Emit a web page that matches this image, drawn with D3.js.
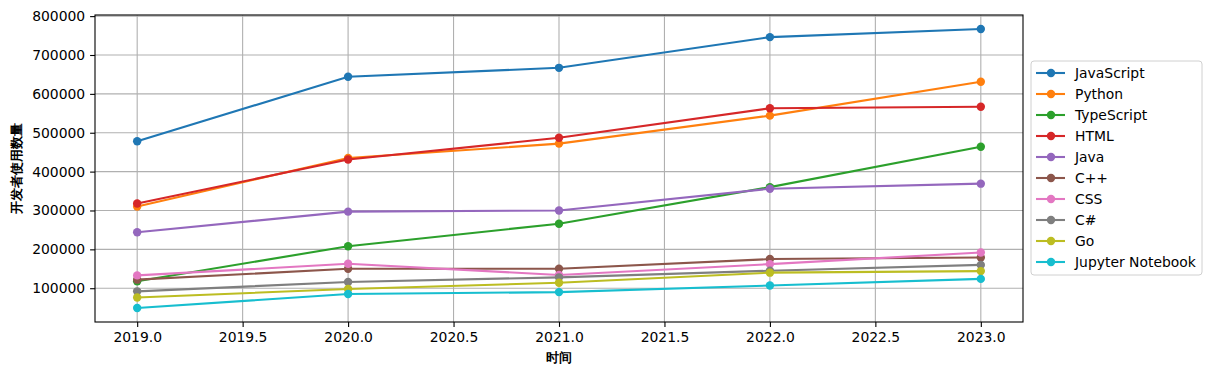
<!DOCTYPE html>
<html>
<head>
<meta charset="utf-8">
<script src="https://cdn.jsdelivr.net/npm/d3@7"></script>
<style>
  body { margin: 0; background: #fff; }
  text { font-family: "DejaVu Sans", sans-serif; }
</style>
</head>
<body>
<svg id="line-chart" width="1211" height="377"></svg>
<script>
const years = [2019, 2020, 2021, 2022, 2023];
const languages = ["JavaScript", "Python", "TypeScript", "HTML", "Java", "C++", "CSS", "C#", "Go", "Jupyter Notebook"];
const javascript = [478000, 644000, 667000, 746000, 767000];
const python = [310000, 435000, 472000, 544000, 631000];
const typescript = [118000, 208000, 266000, 360000, 464000];
const html = [318000, 431000, 487000, 563000, 567000];
const java = [244000, 297000, 300000, 356000, 369000];
const cpp = [122000, 150000, 150000, 175000, 179000];
const css = [133000, 163000, 134000, 162000, 192000];
const csharp = [92000, 116000, 128000, 145000, 160000];
const go = [76000, 98000, 114000, 140000, 144000];
const jupyter = [49000, 85000, 90000, 107000, 124000];
const xTicks = [2019.0, 2019.5, 2020.0, 2020.5, 2021.0, 2021.5, 2022.0, 2022.5, 2023.0];
const yTicks = [100000, 200000, 300000, 400000, 500000, 600000, 700000, 800000];

const seriesValues = [javascript, python, typescript, html, java, cpp, css, csharp, go, jupyter];
const colors = ["#1f77b4", "#ff7f0e", "#2ca02c", "#d62728", "#9467bd", "#8c564b", "#e377c2", "#7f7f7f", "#bcbd22", "#17becf"];

const svg = d3.select("#line-chart");
const margin = {top: 15, right: 188, bottom: 55, left: 95};
const width = 1211 - margin.left - margin.right;
const height = 377 - margin.top - margin.bottom;

const g = svg.append("g").attr("transform", "translate(" + margin.left + "," + margin.top + ")");

// matplotlib style 5% padding
const xmin = 2019, xmax = 2023, xpad = (xmax - xmin) * 0.05;
const allVals = seriesValues.flat();
const ymin = d3.min(allVals), ymax = d3.max(allVals), ypad = (ymax - ymin) * 0.05;

const x = d3.scaleLinear().domain([xmin - xpad, xmax + xpad]).range([0, width]);
const y = d3.scaleLinear().domain([ymin - ypad, ymax + ypad]).range([height, 0]);

// grid
g.append("g").selectAll("line").data(xTicks).enter().append("line")
  .attr("x1", d => x(d)).attr("x2", d => x(d)).attr("y1", 0).attr("y2", height)
  .attr("stroke", "#b0b0b0").attr("stroke-width", 1.1);
g.append("g").selectAll("line").data(yTicks).enter().append("line")
  .attr("y1", d => y(d)).attr("y2", d => y(d)).attr("x1", 0).attr("x2", width)
  .attr("stroke", "#b0b0b0").attr("stroke-width", 1.1);

// axes
const xAxis = g.append("g").attr("transform", "translate(0," + height + ")")
  .call(d3.axisBottom(x).tickValues(xTicks).tickFormat(d3.format(".1f")).tickSize(4.9).tickSizeOuter(0));
const yAxis = g.append("g")
  .call(d3.axisLeft(y).tickValues(yTicks).tickFormat(d3.format("d")).tickSize(4.9).tickSizeOuter(0));
[xAxis, yAxis].forEach(a => {
  a.select(".domain").remove();
  a.selectAll(".tick line").attr("stroke", "#000").attr("stroke-width", 1.1);
  a.selectAll(".tick text").attr("font-family", "DejaVu Sans").attr("font-size", "13.9px").attr("fill", "#000");
});
xAxis.selectAll(".tick text").attr("y", 9.8).attr("dy", "0.76em");
yAxis.selectAll(".tick text").attr("x", -9.8);

// lines and markers
const line = d3.line().x((d, i) => x(years[i])).y(d => y(d));
seriesValues.forEach((vals, k) => {
  g.append("path").datum(vals).attr("d", line)
    .attr("fill", "none").attr("stroke", colors[k]).attr("stroke-width", 2.1);
  g.append("g").selectAll("circle").data(vals).enter().append("circle")
    .attr("cx", (d, i) => x(years[i])).attr("cy", d => y(d)).attr("r", 4.2)
    .attr("fill", colors[k]);
});

// frame
g.append("rect").attr("width", width).attr("height", height)
  .attr("fill", "none").attr("stroke", "#000").attr("stroke-width", 1.1);

// axis labels
g.append("text").attr("x", width / 2).attr("y", height + 40)
  .attr("text-anchor", "middle").attr("font-family", "Noto Sans CJK SC")
  .attr("font-weight", "bold").attr("font-size", "13px").text("时间");
g.append("text").attr("transform", "translate(-74," + (height / 2) + ") rotate(-90)")
  .attr("text-anchor", "middle").attr("font-family", "Noto Sans CJK SC")
  .attr("font-weight", "bold").attr("font-size", "13px").text("开发者使用数量");

// legend
const legend = svg.append("g").attr("transform", "translate(1031,61)");
legend.append("rect").attr("width", 171).attr("height", 214).attr("rx", 3)
  .attr("fill", "#fff").attr("stroke", "#d0d0d0").attr("stroke-width", 1);
languages.forEach((name, k) => {
  const row = legend.append("g").attr("transform", "translate(0," + (12 + k * 21) + ")");
  row.append("line").attr("x1", 5).attr("x2", 34).attr("stroke", colors[k]).attr("stroke-width", 2.1);
  row.append("circle").attr("cx", 20).attr("r", 4.2).attr("fill", colors[k]);
  row.append("text").attr("x", 44).attr("dy", "0.35em").attr("font-size", "13.9px").text(name);
});
</script>
</body>
</html>
